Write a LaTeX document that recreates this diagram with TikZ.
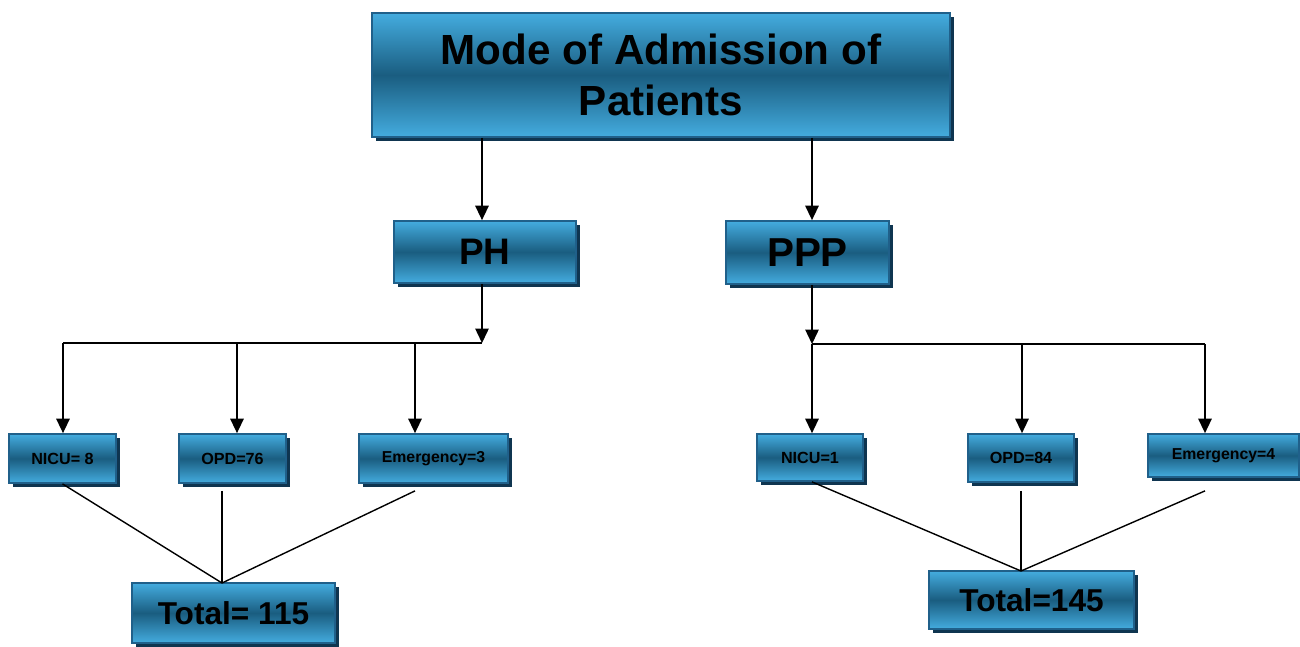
\documentclass[tikz,border=0pt]{standalone}
\usepackage{fontspec}
\setmainfont{Liberation Sans}
\usetikzlibrary{arrows.meta,shadows}
\definecolor{boxlight}{HTML}{44ACDF}
\definecolor{boxdark}{HTML}{1A5D80}
\definecolor{boxedge}{HTML}{20608A}
\definecolor{boxshade}{HTML}{0F3550}

\begin{document}
\begin{tikzpicture}[x=0.02cm,y=-0.02cm,>={Triangle[length=2.9mm,width=2.7mm]},
  box/.style={top color=boxlight,bottom color=boxlight,middle color=boxdark,
    draw=boxedge,line width=1pt,inner sep=0pt,align=center,font=\bfseries,
    drop shadow={fill=boxshade,opacity=1,shadow xshift=0.08cm,shadow yshift=-0.08cm}},
  link/.style={line width=0.8pt}]
  \useasboundingbox (0,0) rectangle (1300,646);
  % boxes
  \node[box,minimum width=11.56cm,minimum height=2.48cm,font=\bfseries\fontsize{24}{29.5}\selectfont] (title) at (661,75) {Mode of Admission of\\Patients};
  \node[box,minimum width=3.64cm,minimum height=1.24cm,font=\bfseries\fontsize{21}{24}\selectfont] (ph) at (485,252) {PH};
  \node[box,minimum width=3.26cm,minimum height=1.26cm,font=\bfseries\fontsize{23}{26}\selectfont] (ppp) at (807.5,252.5) {PPP};
  \node[box,minimum width=2.14cm,minimum height=0.98cm,font=\bfseries\fontsize{9.2}{11}\selectfont] (nicua) at (62.5,458.5) {NICU= 8};
  \node[box,minimum width=2.14cm,minimum height=0.98cm,font=\bfseries\fontsize{9.2}{11}\selectfont] (opda) at (232.5,458.5) {OPD=76};
  \node[box,minimum width=2.98cm,minimum height=0.98cm,font=\bfseries\fontsize{9}{11}\selectfont] (ema) at (433.5,458.5) {Emergency=3};
  \node[box,minimum width=2.12cm,minimum height=0.94cm,font=\bfseries\fontsize{9.2}{11}\selectfont] (nicub) at (810,457.5) {NICU=1};
  \node[box,minimum width=2.12cm,minimum height=0.96cm,font=\bfseries\fontsize{9.2}{11}\selectfont] (opdb) at (1021,458) {OPD=84};
  \node[box,minimum width=3.02cm,minimum height=0.86cm,font=\bfseries\fontsize{9}{11}\selectfont] (emb) at (1223.5,455.5) {Emergency=4};
  \node[box,minimum width=4.06cm,minimum height=1.2cm,font=\bfseries\fontsize{18}{21}\selectfont] (tota) at (233.5,613) {Total= 115};
  \node[box,minimum width=4.10cm,minimum height=1.16cm,font=\bfseries\fontsize{18}{21}\selectfont] (totb) at (1031.5,600) {Total=145};
  % branch points
  \coordinate (phj) at (482,343);
  \coordinate (pha) at (63,343);
  \coordinate (phb) at (237,343);
  \coordinate (phc) at (415,343);
  \coordinate (ppj) at (812,344);
  \coordinate (ppa) at (812,344);
  \coordinate (ppb) at (1022,344);
  \coordinate (ppc) at (1205,344);
  \coordinate (tpa) at (222,583);
  \coordinate (tpb) at (1021,571);
  % connectors
  \draw[link,->] (title.south -| phj) -- (ph.north -| phj);
  \draw[link,->] (title.south -| ppj) -- (ppp.north -| ppj);
  \draw[link,->] (ph.south -| phj) -- (phj);
  \draw[link,->] (ppp.south -| ppj) -- (ppj);
  \draw[link] (pha) -- (phj);
  \draw[link] (ppa) -- (ppc);
  \draw[link,->] (pha) -- (nicua.north -| pha);
  \draw[link,->] (phb) -- (opda.north -| phb);
  \draw[link,->] (phc) -- (ema.north -| phc);
  \draw[link,->] (ppa) -- (nicub.north -| ppa);
  \draw[link,->] (ppb) -- (opdb.north -| ppb);
  \draw[link,->] (ppc) -- (emb.north -| ppc);
  \draw[link] (nicua.south) -- (tpa);
  \draw[link] (opda.south -| tpa) ++(0,7) -- (tpa);
  \draw[link] (ema.south -| phc) ++(0,7) -- (tpa);
  \draw[link] (nicub.south -| ppa) -- (tpb);
  \draw[link] (opdb.south -| tpb) ++(0,8) -- (tpb);
  \draw[link] (emb.south -| ppc) ++(0,13) -- (tpb);
\end{tikzpicture}
\end{document}
